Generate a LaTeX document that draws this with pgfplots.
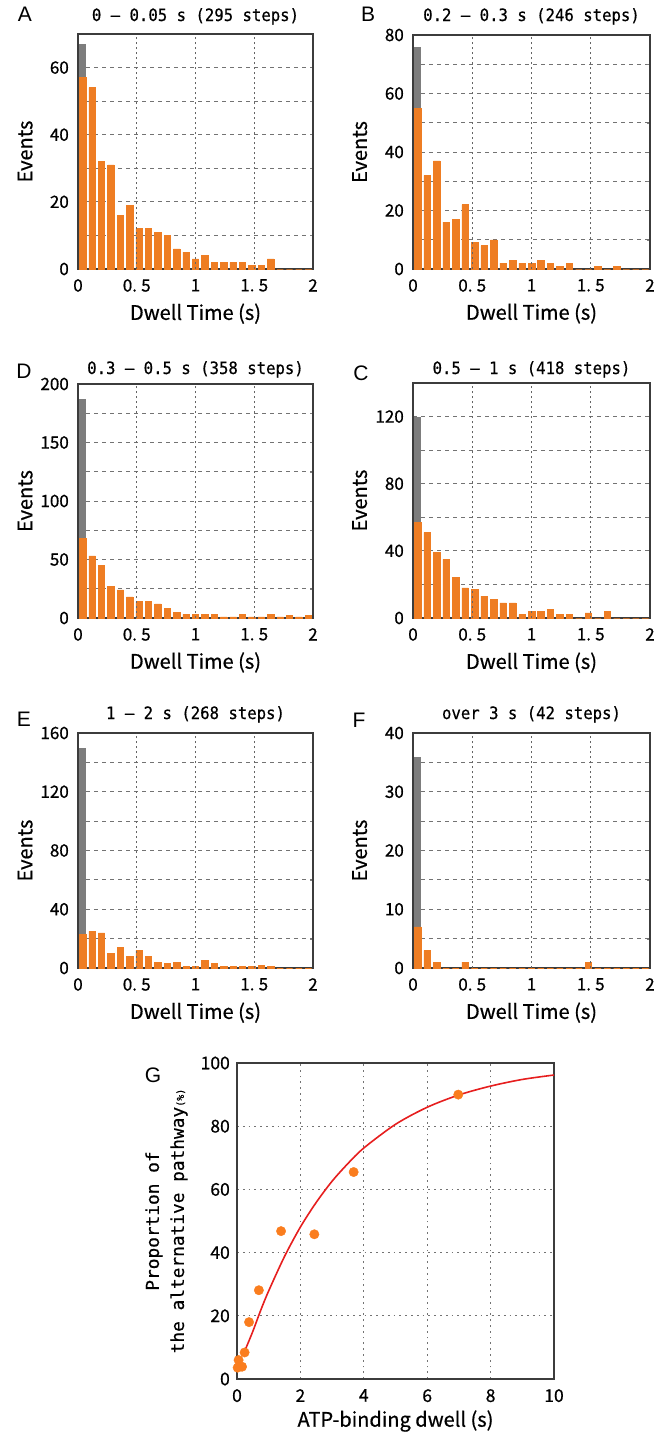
\documentclass[border=0pt]{standalone}
\usepackage{pgfplots}
\pgfplotsset{compat=1.18}
\usepackage{fontspec}
\setmainfont{Noto Sans CJK JP}[FakeBold=0.7]
\newfontfamily\monofont{DejaVu Sans Mono}[FakeStretch=0.92, FakeBold=0.6]
\newfontfamily\gmonofont{DejaVu Sans Mono}[FakeBold=0.5]
\newfontfamily\letterfont{Liberation Sans}
\definecolor{barorange}{RGB}{238,125,35}
\definecolor{bargray}{RGB}{125,125,125}
\definecolor{fitred}{RGB}{230,30,30}
\definecolor{ptorange}{RGB}{250,125,30}
\definecolor{gridgray}{RGB}{115,115,115}
\definecolor{vgridgray}{RGB}{100,100,100}
\definecolor{framegray}{RGB}{60,60,60}

\pgfplotsset{
 histo/.style={
  scale only axis, width=235pt, height=235pt,
  xmin=0, xmax=2, ymin=0,
  xtick={0,0.5,1,1.5,2},
  xticklabels={0,0.\hspace{0.25em}5,1,1.\hspace{0.25em}5,2},
  major tick length=0pt,
  minor y tick num=1,
  grid=both,
  major x grid style={vgridgray, line width=1.2pt, dash pattern=on 2pt off 3pt},
  major y grid style={gridgray, line width=0.8pt, dash pattern=on 4pt off 4pt},
  minor y grid style={gridgray, line width=0.8pt, dash pattern=on 4pt off 4pt},
  axis line style={framegray, line width=1.3pt},
  /pgf/number format/assume math mode=true,
  yticklabel style={font=\fontsize{17}{17}\selectfont, anchor=east, inner sep=0pt, xshift=-9pt},
  xticklabel style={font=\fontsize{17}{17}\selectfont, anchor=north, inner sep=0pt, yshift=-10pt},
  ylabel={Events}, xlabel={Dwell Time (s)},
  every axis y label/.style={at={(axis description cs:-0.225,0.5)}, rotate=90, anchor=center, font=\fontsize{20}{20}\selectfont},
  every axis x label/.style={at={(axis description cs:0.5,-0.19)}, anchor=center, font=\fontsize{20}{20}\selectfont},
  title style={at={(axis description cs:0.5,1)}, anchor=base, font=\monofont\fontsize{17}{17}\selectfont},
 },
 graybar/.style={ybar, bar width=0.055, bar shift=0pt, fill=bargray, draw=none},
 orangebar/.style={ybar, bar width=0.055, bar shift=0pt, fill=barorange, draw=barorange, line width=0.5pt},
 vgrid/.style={vgridgray, line width=1.2pt, dash pattern=on 2pt off 3pt, forget plot, mark=none},
}

\begin{document}
\begin{tikzpicture}
\useasboundingbox (0pt,0pt) rectangle (661pt,-1432pt);

% ---------------- A ----------------
\begin{axis}[histo, at={(78pt,-269pt)}, anchor=south west, width=235pt, height=235pt,
  ymax=70, ytick={0,20,40,60},
  title={0 – 0.05 s (295 steps)}, title style={yshift=7pt}]
\addplot[graybar] coordinates {(0.04,67)};
\addplot[orangebar] coordinates {
(0.04,57) (0.12,54) (0.20,32) (0.28,31) (0.36,16) (0.44,19) (0.52,12) (0.60,12)
(0.68,11) (0.76,10) (0.84,6) (0.92,5) (1.00,3) (1.08,4) (1.16,2) (1.24,2)
(1.32,2) (1.40,2) (1.48,1) (1.56,1) (1.64,3) (1.72,0) (1.80,0) (1.88,0) (1.96,0)};
\addplot[vgrid] coordinates {(0.5,0) (0.5,70)};
\addplot[vgrid] coordinates {(1,0) (1,70)};
\addplot[vgrid] coordinates {(1.5,0) (1.5,70)};
\end{axis}

% ---------------- B ----------------
\begin{axis}[histo, at={(413pt,-269pt)}, anchor=south west, width=237pt, height=234pt,
  ymax=80, ytick={0,20,40,60,80},
  title={0.2 – 0.3 s (246 steps)}, title style={yshift=8pt}]
\addplot[graybar] coordinates {(0.04,76)};
\addplot[orangebar] coordinates {
(0.04,55) (0.12,32) (0.20,37) (0.28,16) (0.36,17) (0.44,22) (0.52,9) (0.60,8)
(0.68,10) (0.76,2) (0.84,3) (0.92,2) (1.00,2) (1.08,3) (1.16,2) (1.24,1)
(1.32,2) (1.40,0) (1.48,0) (1.56,1) (1.64,0) (1.72,1) (1.80,0) (1.88,0) (1.96,0)};
\addplot[vgrid] coordinates {(0.5,0) (0.5,80)};
\addplot[vgrid] coordinates {(1,0) (1,80)};
\addplot[vgrid] coordinates {(1.5,0) (1.5,80)};
\end{axis}

% ---------------- D ----------------
\begin{axis}[histo, at={(78pt,-618pt)}, anchor=south west, width=235pt, height=234pt,
  ymax=200, ytick={0,50,100,150,200},
  title={0.3 – 0.5 s (358 steps)}, title style={yshift=4pt}]
\addplot[graybar] coordinates {(0.04,187)};
\addplot[orangebar] coordinates {
(0.04,68) (0.12,53) (0.20,45) (0.28,27) (0.36,24) (0.44,18) (0.52,14) (0.60,14)
(0.68,12) (0.76,8) (0.84,5) (0.92,3) (1.00,3) (1.08,3) (1.16,3) (1.24,1)
(1.32,1) (1.40,3) (1.48,1) (1.56,1) (1.64,3) (1.72,1) (1.80,2) (1.88,1) (1.96,2)};
\addplot[vgrid] coordinates {(0.5,0) (0.5,200)};
\addplot[vgrid] coordinates {(1,0) (1,200)};
\addplot[vgrid] coordinates {(1.5,0) (1.5,200)};
\end{axis}

% ---------------- C ----------------
\begin{axis}[histo, at={(413pt,-618pt)}, anchor=south west, width=237pt, height=235pt,
  ymax=140, ytick={0,40,80,120},
  title={0.5 – 1 s (418 steps)}, title style={yshift=3pt}]
\addplot[graybar] coordinates {(0.04,120)};
\addplot[orangebar] coordinates {
(0.04,57) (0.12,51) (0.20,39) (0.28,35) (0.36,24) (0.44,18) (0.52,17) (0.60,13)
(0.68,11) (0.76,9) (0.84,9) (0.92,2) (1.00,4) (1.08,4) (1.16,5) (1.24,2)
(1.32,2) (1.40,0) (1.48,3) (1.56,0) (1.64,4) (1.72,0) (1.80,0) (1.88,0) (1.96,0)};
\addplot[vgrid] coordinates {(0.5,0) (0.5,140)};
\addplot[vgrid] coordinates {(1,0) (1,140)};
\addplot[vgrid] coordinates {(1.5,0) (1.5,140)};
\end{axis}

% ---------------- E ----------------
\begin{axis}[histo, at={(78pt,-968pt)}, anchor=south west, width=235pt, height=235pt,
  ymax=160, ytick={0,40,80,120,160},
  title={1 – 2 s (268 steps)}, title style={yshift=8pt}]
\addplot[graybar] coordinates {(0.04,150)};
\addplot[orangebar] coordinates {
(0.04,23) (0.12,25) (0.20,24) (0.28,10) (0.36,14) (0.44,8) (0.52,12) (0.60,8)
(0.68,4) (0.76,3) (0.84,4) (0.92,1) (1.00,1) (1.08,5) (1.16,3) (1.24,1)
(1.32,1) (1.40,1) (1.48,1) (1.56,2) (1.64,1) (1.72,0) (1.80,0) (1.88,0) (1.96,0)};
\addplot[vgrid] coordinates {(0.5,0) (0.5,160)};
\addplot[vgrid] coordinates {(1,0) (1,160)};
\addplot[vgrid] coordinates {(1.5,0) (1.5,160)};
\end{axis}

% ---------------- F ----------------
\begin{axis}[histo, at={(413pt,-968pt)}, anchor=south west, width=237pt, height=235pt,
  ymax=40, ytick={0,10,20,30,40},
  title={over 3 s (42 steps)}, title style={yshift=8pt}]
\addplot[graybar] coordinates {(0.04,36)};
\addplot[orangebar] coordinates {
(0.04,7) (0.12,3) (0.20,1) (0.28,0) (0.36,0) (0.44,1) (0.52,0) (0.60,0)
(0.68,0) (0.76,0) (0.84,0) (0.92,0) (1.00,0) (1.08,0) (1.16,0) (1.24,0)
(1.32,0) (1.40,0) (1.48,1) (1.56,0) (1.64,0) (1.72,0) (1.80,0) (1.88,0) (1.96,0)};
\addplot[vgrid] coordinates {(0.5,0) (0.5,40)};
\addplot[vgrid] coordinates {(1,0) (1,40)};
\addplot[vgrid] coordinates {(1.5,0) (1.5,40)};
\end{axis}

% ---------------- G ----------------
\begin{axis}[scale only axis, width=317pt, height=316pt, at={(237pt,-1379pt)}, anchor=south west,
  xmin=0, xmax=10, ymin=0, ymax=100,
  xtick={0,2,4,6,8,10}, ytick={0,20,40,60,80,100},
  major tick length=0pt,
  grid=major,
  major grid style={gridgray, line width=1pt, dash pattern=on 1.8pt off 4pt},
  axis line style={framegray, line width=1.3pt},
  /pgf/number format/assume math mode=true,
  yticklabel style={font=\fontsize{17.5}{17.5}\selectfont, anchor=east, inner sep=0pt, xshift=-7pt},
  xticklabel style={font=\fontsize{17.5}{17.5}\selectfont, anchor=north, inner sep=0pt, yshift=-10pt},
  xlabel={ATP-binding dwell (s)},
  ylabel={Proportion of\\the alternative pathway{\fontsize{10}{10}\selectfont(\%)}},
  every axis y label/.style={at={(axis description cs:-0.2224,0.5)}, rotate=90, anchor=center, align=center, font=\gmonofont\fontsize{17.8}{25}\selectfont},
  every axis x label/.style={at={(axis description cs:0.5,-0.133)}, anchor=center, font=\fontsize{20}{20}\selectfont},
]
\addplot[fitred, line width=1.6pt, smooth] coordinates {
(0.25,9) (0.5,15.1) (0.75,21.8) (1,27.9) (1.5,38.8) (2,48.1) (2.5,55.9) (3,62.6)
(3.5,68.2) (4,73.1) (5,80.6) (6,86.0) (7,89.9) (8,92.7) (9,94.8) (10,96.2)};
\addplot[ptorange, only marks, mark=*, mark size=4.7pt, mark options={fill=ptorange, draw=ptorange}] coordinates {
(0.02,3.6) (0.16,3.9) (0.05,6.0) (0.24,8.4) (0.38,18.0) (0.69,28.1)
(1.39,46.8) (2.44,45.8) (3.68,65.5) (6.98,90.0)};
\end{axis}

\begin{scope}[every node/.style={font=\letterfont\fontsize{21}{21}\selectfont, anchor=base, inner sep=0pt}]
\node at (25pt,-21pt) {A};
\node at (368pt,-21pt) {B};
\node at (24pt,-378pt) {D};
\node at (361pt,-380pt) {C};
\node at (24pt,-726pt) {E};
\node at (359pt,-727pt) {F};
\node at (153pt,-1082pt) {G};
\end{scope}
\end{tikzpicture}
\end{document}
